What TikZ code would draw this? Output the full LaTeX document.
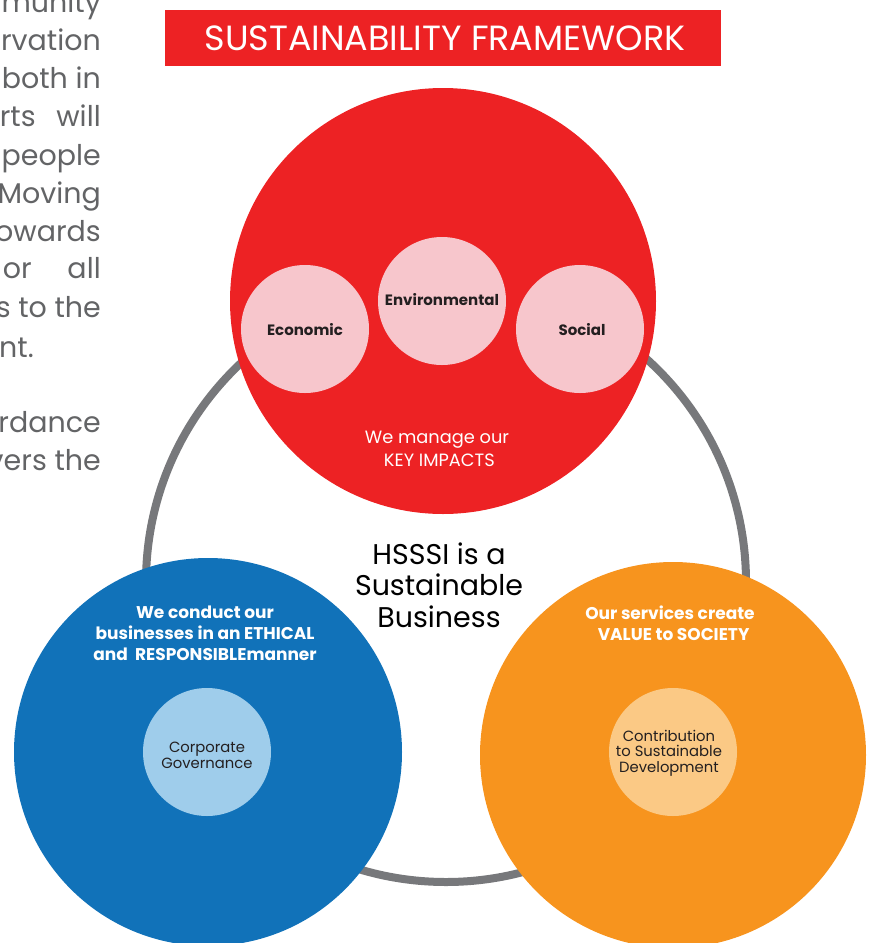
\documentclass[tikz,border=0pt]{standalone}
\usepackage{fontspec}
\setmainfont{Poppins}
\definecolor{hred}{HTML}{ED2224}
\definecolor{hpink}{HTML}{F7C6CC}
\definecolor{hblue}{HTML}{1172B9}
\definecolor{hlblue}{HTML}{9FCDEB}
\definecolor{horange}{HTML}{F7941E}
\definecolor{hlorange}{HTML}{FBC985}
\definecolor{hgrey}{HTML}{77787B}
\definecolor{htext}{HTML}{231F20}
\definecolor{hbody}{HTML}{636466}
\begin{document}
\begin{tikzpicture}[x=1pt,y=-1pt,
  bigc/.style={circle,inner sep=0pt,minimum size=#1},
  smallc/.style={circle,inner sep=0pt,minimum size=128pt},
  pillar/.style={text=htext,font=\bfseries\fontsize{15}{17}\selectfont},
  inlab/.style={text=htext,align=center,font=\fontsize{14.8}{15.7}\selectfont},
  headw/.style={text=white,align=center,font=\bfseries\fontsize{17}{21}\selectfont},
  body/.style={text=hbody,anchor=base east,inner sep=0pt,font=\fontsize{28.5}{30}\selectfont}]
\useasboundingbox (0,0) rectangle (872,943);
% left running text (cut at page edge)
\foreach \t/\y in {munity/12,rvation/50,both in/88,{\hbox to 101pt{rts\hfill will}}/126,people/165,Moving/203,owards/241,{\hbox to 98pt{or\hfill all}}/278,s to the/317,rdance/432,vers the/470}
  \node[body] at (101,\y) {\t};
\node[body,anchor=base west] (last) at (-1,357) {nt.};
% title
\node[fill=hred,minimum width=556pt,minimum height=56pt,inner sep=0pt] (title) at (443,38) {};
\node[text=white,font=\fontsize{35}{36}\selectfont] (titletext) at (445,38) {SUSTAINABILITY FRAMEWORK};
% grey ring
\node[bigc=600pt,draw=hgrey,line width=8pt] (ring) at (446,582) {};
% big circles
\node[bigc=426pt,fill=hred] (red) at (443,301) {};
\node[bigc=388pt,fill=hblue] (blue) at (208,752) {};
\node[bigc=386pt,fill=horange] (orange) at (673,755) {};
% red inner circles
\node[smallc,fill=hpink] (eco) at (305,329) {};
\node[smallc,fill=hpink] (env) at (442,301) {};
\node[smallc,fill=hpink] (soc) at (580,329) {};
\node[pillar] at (305,330) {Economic};
\node[pillar] at (442,300) {Environmental};
\node[pillar] at (582,330) {Social};
\node[text=white,align=center,font=\fontsize{17.8}{23}\selectfont] (redlab) at (437,449) {We manage our\\ \ KEY IMPACTS};
% centre text
\node[text=black,align=center,font=\fontsize{28.5}{31.5}\selectfont] (centre) at (439,585) {HSSSI is a\\Sustainable\\Business};
% blue
\node[headw] (bluelab) at (205,633) {We conduct our\\businesses in an ETHICAL\\and \ RESPONSIBLEmanner};
\node[smallc,fill=hlblue] (gov) at (207,752) {};
\node[inlab] at (207,755) {Corporate\\Governance};
% orange
\node[headw] (orangelab) at (670,623) {Our services create\\ \ \ VALUE to SOCIETY};
\node[smallc,fill=hlorange] (sd) at (673,752) {};
\node[inlab] at (669,753) {Contribution\\to Sustainable\\Development};
\end{tikzpicture}
\end{document}
